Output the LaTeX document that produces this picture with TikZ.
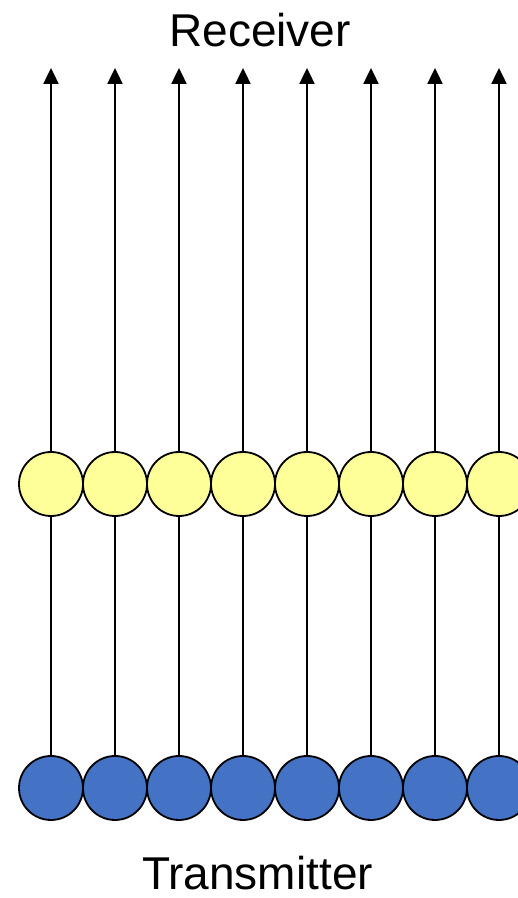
\documentclass[tikz,border=0pt]{standalone}
\usepackage{fontspec}
\setmainfont{Liberation Sans}
\usepackage{tikz}
\usetikzlibrary{arrows.meta}
\usepackage{xcolor}
\definecolor{rxyellow}{HTML}{FFFF99}
\definecolor{txblue}{HTML}{4472C4}
\tikzset{
  rxnode/.style={
    draw,
    circle,
    minimum size=64pt,
    inner sep=0pt,
    line width=1.8pt,
    fill=rxyellow,
  },
  txnode/.style={
    draw,
    circle,
    minimum size=64pt,
    inner sep=0pt,
    line width=1.8pt,
    fill=txblue,
  },
  beam/.style={line width=2.4pt},
  endtext/.style={font=\fontsize{46}{55}\selectfont, inner sep=0pt, anchor=base},
}
\begin{document}
\begin{tikzpicture}[x=1pt,y=1pt]
  \useasboundingbox (0,0) rectangle (518,898);
  \clip (0,0) rectangle (518,898);
  \foreach \j in {0,...,7} {
    \node[txnode] (T\j) at (51+64*\j, 110) {};
    \node[rxnode] (R\j) at (51+64*\j, 414) {};
    \coordinate (A\j) at (51+64*\j, 830);
    \draw[beam] (T\j) -- (R\j);
    \draw[beam, -{Triangle[length=16pt,width=15pt]}] (R\j) -- (A\j);
  }
  \node[endtext] (rx) at (260, 851) {Receiver};
  \node[endtext] (tx) at (257.5, 9) {Transmitter};
\end{tikzpicture}
\end{document}
